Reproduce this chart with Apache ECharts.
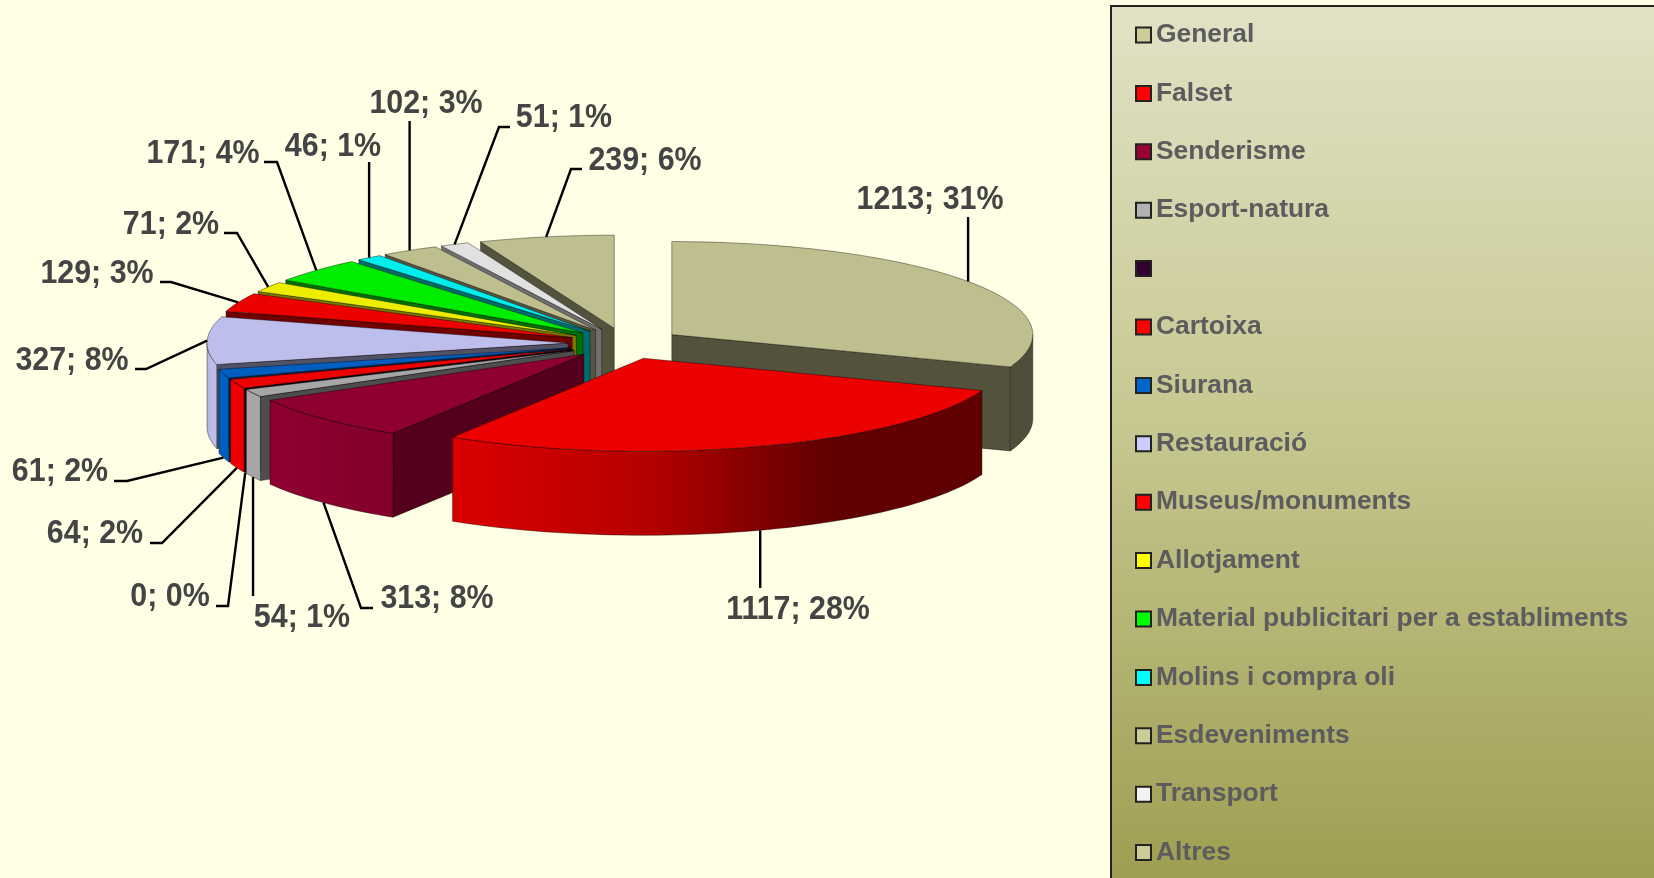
<!DOCTYPE html>
<html>
<head>
<meta charset="utf-8">
<title>Pie</title>
<style>
html, body { margin: 0; padding: 0; background: #FFFFE5; }
#main { width: 1654px; height: 878px; }
</style>
<script src="https://cdn.jsdelivr.net/npm/echarts@6/dist/echarts.min.js"></script>
</head>
<body>
<div id="main"></div>
<script>
// ' ' is the legend entry with no text in the original
var categories = ['General', 'Falset', 'Senderisme', 'Esport-natura', ' ', 'Cartoixa', 'Siurana', 'Restauració',
    'Museus/monuments', 'Allotjament', 'Material publicitari per a establiments', 'Molins i compra oli',
    'Esdeveniments', 'Transport', 'Altres'];
var values = [1213, 1117, 313, 54, 0, 64, 61, 327, 129, 71, 171, 46, 102, 51, 239];
var colors = ['#CCCC99', '#FF0000', '#990033', '#B2B2B2', '#330033', '#FF0000', '#0066CC', '#CCCCFF',
    '#FF0000', '#FFFF00', '#00FF00', '#00FFFF', '#CCCC99', '#F2F2F2', '#CCCC99'];
var wallLight = [0.4, 0.42, 0.55, 0.43, 0.42, 0.46, 0.42, 0.4, 0.44, 0.48, 0.44, 0.42, 0.42, 0.46, 0.4];

// pie geometry, px
var cx = 625, cy = 343.5, rx = 361, ry = 93, depth = 84;
var explodeX = 57, explodeY = 15.6;

// label centre, then the leader bend points going from the pie outwards
// (null x keeps the leader vertical)
var labelLayout = [
    { text: [930, 200], bend: [[null, 217]] },
    { text: [798, 610], bend: [[null, 588]] },
    { text: [437, 599], bend: [[361, 608], [373, 608]] },
    { text: [302, 618], bend: [[null, 596]] },
    { text: [170, 597], bend: [[228, 606], [216, 606]] },
    { text: [95, 534], bend: [[162, 543], [150, 543]] },
    { text: [60, 472], bend: [[127, 481], [114, 481]] },
    { text: [72, 361], bend: [[146, 369], [135, 369]] },
    { text: [97, 274], bend: [[171, 282], [160, 282]] },
    { text: [171, 225], bend: [[237, 233], [224, 233]] },
    { text: [203, 154], bend: [[277, 162], [264, 162]] },
    { text: [333, 147], bend: [[null, 162]] },
    { text: [426, 104], bend: [[null, 121]] },
    { text: [564, 118], bend: [[499, 127], [510, 127]] },
    { text: [645, 160.5], bend: [[571, 169], [582, 169]] }
];

var total = values.reduce(function (a, b) { return a + b; }, 0);
var slices = [];
var acc = 0;
values.forEach(function (v, i) {
    var a0 = acc / total * 360;
    acc += v;
    var a1 = acc / total * 360;
    var mid = (a0 + a1) / 2;
    slices.push({
        index: i, a0: a0, a1: a1, mid: mid,
        x: cx + explodeX * Math.sin(mid * Math.PI / 180),
        y: cy - explodeY * Math.cos(mid * Math.PI / 180)
    });
});

function edge(s, deg, dy) {
    var r = deg * Math.PI / 180;
    return [s.x + rx * Math.sin(r), s.y - ry * Math.cos(r) + (dy || 0)];
}

function scale(hex, f) {
    var n = parseInt(hex.slice(1), 16);
    return 'rgb(' + Math.round((n >> 16 & 255) * f) + ',' + Math.round((n >> 8 & 255) * f) + ',' + Math.round((n & 255) * f) + ')';
}

// how much light the rim gets, by angle round the pie
var rimLight = [[90, 0.38], [150, 0.38], [180, 0.72], [215, 0.87], [240, 0.93], [260, 0.93], [270, 0.86]];
function lightAt(deg) {
    for (var i = 1; i < rimLight.length; i++) {
        if (deg <= rimLight[i][0]) {
            var p = rimLight[i - 1], q = rimLight[i];
            return p[1] + (q[1] - p[1]) * (deg - p[0]) / (q[0] - p[0]);
        }
    }
    return 0.86;
}

var line = { stroke: 'rgba(0,0,0,0.55)', lineWidth: 0.7 };

function face(points, fill) {
    return { type: 'polygon', silent: true, shape: { points: points },
        style: { fill: fill, stroke: line.stroke, lineWidth: line.lineWidth } };
}

function renderSlice(s) {
    var base = colors[s.index];
    var top = [[s.x, s.y]];
    var n = Math.max(2, Math.ceil((s.a1 - s.a0) / 1.5));
    for (var k = 0; k <= n; k++) {
        top.push(edge(s, s.a0 + (s.a1 - s.a0) * k / n));
    }
    var children = [];
    var wall = scale(base, wallLight[s.index]);
    var apexDown = [s.x, s.y + depth];

    // radial wall, only the ones that face the viewer
    if (s.a0 >= 180) {
        children.push(face([[s.x, s.y], edge(s, s.a0), edge(s, s.a0, depth), apexDown], wall));
    }
    if (s.a1 <= 180) {
        children.push(face([[s.x, s.y], edge(s, s.a1), edge(s, s.a1, depth), apexDown], wall));
    }

    // rim, front half of the pie only
    var from = Math.max(s.a0, 90), to = Math.min(s.a1, 270);
    if (to > from) {
        var upper = [], lower = [], stops = [];
        var m = Math.max(2, Math.ceil((to - from) / 1.5));
        for (var j = 0; j <= m; j++) {
            var d = from + (to - from) * j / m;
            upper.push(edge(s, d));
            lower.unshift(edge(s, d, depth));
        }
        var xa = edge(s, to)[0], xb = edge(s, from)[0];
        for (var h = 0; h <= 24; h++) {
            var deg = to - (to - from) * h / 24;
            var off = (edge(s, deg)[0] - xa) / (xb - xa);
            stops.push({ offset: Math.min(1, Math.max(0, off)), color: scale(base, lightAt(deg)) });
        }
        var fill = new echarts.graphic.LinearGradient(xa, 0, xb, 0, stops, true);
        children.push(face(upper.concat(lower), fill));
    }
    children.push(face(top, scale(base, 0.93)));
    return { type: 'group', children: children };
}

function renderLabels() {
    var children = [];
    slices.forEach(function (s) {
        var v = values[s.index];
        var lay = labelLayout[s.index];
        // leader starts on the top edge at the back, on the bottom edge at the front
        var start = edge(s, s.mid, Math.cos(s.mid * Math.PI / 180) < 0 ? depth : 0);
        var bends = lay.bend.map(function (b) { return [b[0] === null ? start[0] : b[0], b[1]]; });
        children.push({ type: 'polyline', silent: true, shape: { points: [start].concat(bends) },
            style: { fill: null, stroke: '#000000', lineWidth: 2.4 } });
        children.push({ type: 'text', silent: true, x: lay.text[0], y: lay.text[1], scaleY: 1.08,
            style: { text: v + '; ' + Math.round(v / total * 100) + '%', align: 'center', verticalAlign: 'middle',
                fill: '#444444', font: 'bold 30.4px "Liberation Sans", Arial, sans-serif' } });
    });
    return { type: 'group', children: children };
}

// back slices first so the front ones sit over them
var drawOrder = slices.slice().sort(function (a, b) {
    return Math.cos(a.mid * Math.PI / 180) < Math.cos(b.mid * Math.PI / 180) ? 1 : -1;
});

var series = drawOrder.map(function (s) {
    return {
        type: 'custom',
        name: categories[s.index],
        coordinateSystem: 'none',
        itemStyle: { color: colors[s.index] },
        data: [[values[s.index]]],
        renderItem: function () { return renderSlice(s); }
    };
});
series.push({
    type: 'custom',
    name: 'labels',
    coordinateSystem: 'none',
    data: [[0]],
    renderItem: renderLabels
});

var myChart = echarts.init(document.getElementById('main'));
var option = {
    animation: false,
    backgroundColor: '#FFFFE5',
    graphic: [{
        type: 'rect',
        z: -1,
        silent: true,
        shape: { x: 1111, y: 6, width: 560, height: 900 },
        style: {
            stroke: '#222222',
            lineWidth: 2,
            fill: new echarts.graphic.LinearGradient(0, 0, 0, 1, [
                { offset: 0, color: '#E2E2C6' },
                { offset: 0.45, color: '#C8C893' },
                { offset: 1, color: '#9C9C4E' }
            ])
        }
    }],
    legend: {
        orient: 'vertical',
        left: 1135,
        top: 22,
        padding: 0,
        itemWidth: 15,
        itemHeight: 15,
        itemGap: 32.4,
        icon: 'rect',
        selectedMode: false,
        itemStyle: { borderColor: '#222222', borderWidth: 2 },
        textStyle: {
            color: '#5C5C5E',
            fontFamily: '"Liberation Sans", Arial, sans-serif',
            fontWeight: 'bold',
            fontSize: 26.4,
            lineHeight: 26
        },
        data: categories
    },
    series: series
};

myChart.setOption(option);
</script>
</body>
</html>
